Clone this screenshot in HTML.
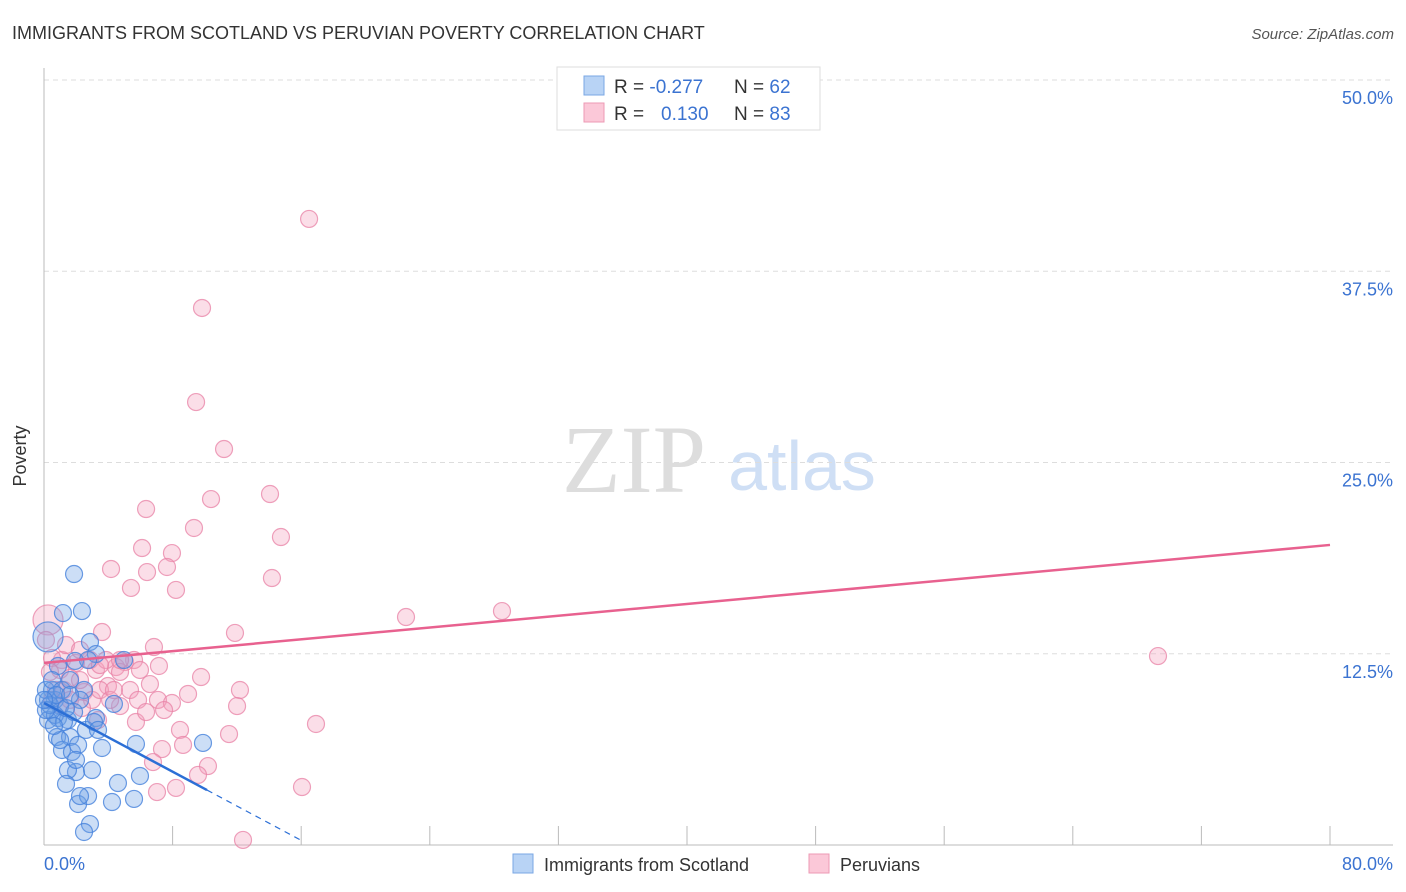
<!DOCTYPE html>
<html><head><meta charset="utf-8"><style>
body{margin:0;background:#fff;font-family:"Liberation Sans",sans-serif}
svg{display:block}
</style></head><body>
<svg id="chart" width="1406" height="892" viewBox="0 0 1406 892">
<text x="12" y="39" font-size="18" fill="#333">IMMIGRANTS FROM SCOTLAND VS PERUVIAN POVERTY CORRELATION CHART</text>
<text x="1394" y="39" font-size="15" fill="#555" font-style="italic" text-anchor="end">Source: ZipAtlas.com</text>
<text x="26" y="456" font-size="18" fill="#333" text-anchor="middle" transform="rotate(-90 26 456)">Poverty</text>
<g>
<text x="634" y="492" font-size="96" font-family="Liberation Serif,serif" fill="#ddd" text-anchor="middle">ZIP</text>
<text x="802" y="490" font-size="70" fill="#cfdff5" text-anchor="middle">atlas</text>
</g>
<g id="grid"></g>
<g id="axes"></g>
<g id="pts"></g>
<g id="lines"></g>
<g>
<rect x="557" y="67" width="263" height="63" fill="#fff" stroke="#ddd"/>
<rect x="584" y="76" width="20" height="19" fill="#b8d3f5" stroke="#7aa7e4"/>
<rect x="584" y="103" width="20" height="19" fill="#fbc8d8" stroke="#ec9ab4"/>
<text x="614" y="93" font-size="19" fill="#333">R = <tspan fill="#3b73d1">-0.277</tspan></text>
<text x="734" y="93" font-size="19" fill="#333">N = <tspan fill="#3b73d1">62</tspan></text>
<text x="614" y="120" font-size="19" fill="#333">R = </text>
<text x="661" y="120" font-size="19" fill="#3b73d1">0.130</text>
<text x="734" y="120" font-size="19" fill="#333">N = <tspan fill="#3b73d1">83</tspan></text>
</g>
<g>
<rect x="513" y="854" width="20" height="19" fill="#b8d3f5" stroke="#7aa7e4"/>
<text x="544" y="871" font-size="18" fill="#333">Immigrants from Scotland</text>
<rect x="809" y="854" width="20" height="19" fill="#fbc8d8" stroke="#ec9ab4"/>
<text x="840" y="871" font-size="18" fill="#333">Peruvians</text>
</g>
</svg>
<script>
const yTicks=[12.5,25,37.5,50];
const yTickLabels=["12.5%","25.0%","37.5%","50.0%"];
const xTickLabels=["0.0%","80.0%"];
const blueX=[1.87,1.18,2.36,2.86,3.23,1.93,0.87,0.25,0.50,0.68,1.00,0.37,0.87,1.49,2.49,3.23,2.61,4.35,0.81,1.62,1.12,1.74,2.12,3.61,1.99,1.49,1.37,2.12,2.74,2.24,2.86,2.49,4.23,4.60,5.60,5.97,5.72,9.89,0.25,0.12,0.50,0.25,0.68,1.12,1.62,2.74,4.98,3.11,1.99,3.36,1.24,2.24,0.37,0.75,1.00,1.87,1.37,0.62,2.99,0.12,1.62,0.0];
const blueY=[17.71,15.16,15.29,13.27,12.48,12.03,11.70,13.60,10.13,9.48,9.08,8.82,8.30,8.17,10.13,8.30,7.52,9.22,7.06,7.06,6.21,6.08,6.54,6.34,4.77,4.90,3.99,2.68,3.20,3.20,1.37,0.85,2.81,4.05,3.01,4.51,6.60,6.67,9.48,10.13,10.78,8.17,8.50,10.13,10.78,12.09,12.09,8.04,5.56,7.52,8.04,9.48,9.15,9.80,6.86,8.69,8.95,7.78,4.90,8.82,9.80,9.48];
const pinkX=[16.49,9.83,9.46,11.20,10.39,14.06,6.35,9.33,14.74,6.10,7.96,4.17,7.65,6.41,14.18,5.41,8.21,22.52,28.49,69.30,0.25,3.61,6.84,11.88,5.04,7.15,9.77,3.23,4.48,1.12,1.99,0.50,3.98,5.35,6.59,8.96,12.19,2.49,1.24,2.99,4.73,5.85,7.09,7.96,12.01,7.47,5.72,8.46,11.51,16.92,8.65,7.34,10.20,9.58,6.78,8.21,7.03,16.05,12.38,3.86,4.73,1.00,1.62,0.37,0.75,2.24,3.48,4.11,2.86,5.60,6.35,4.35,1.62,3.36,1.00,2.36,4.73,3.48,0.50,1.37,0.12,2.24,5.97];
const pinkY=[40.92,35.10,28.95,25.88,22.61,22.94,21.96,20.72,20.13,19.41,19.08,18.04,18.17,17.84,17.45,16.80,16.67,14.90,15.29,12.35,14.71,13.92,12.94,13.86,11.96,11.70,10.98,11.44,11.63,12.09,11.90,12.22,10.39,10.13,10.52,9.87,10.13,10.00,10.13,9.48,9.08,9.48,9.48,9.28,9.08,8.82,8.04,7.52,7.25,7.91,6.54,6.27,5.16,4.58,5.42,3.73,3.46,3.79,0.33,12.09,11.31,11.44,10.92,11.31,10.13,10.78,10.13,9.48,12.09,12.09,8.69,10.13,9.48,8.17,9.15,8.95,12.09,11.76,9.48,13.07,13.40,12.75,11.44];
const blueTrend=[9.28,-0.561];   // intercept, slope
const blueTrendEnd=[10.14,15.92]; // solid end, dashed end (x%)
const pinkTrend=[11.90,0.0964];

const NS="http://www.w3.org/2000/svg";
const X0=44,X1=1330,Y0=845,Y1=80;
const sx=v=>X0+(v/80)*(X1-X0);
const sy=v=>Y0-(v/50)*(Y0-Y1);
function mk(t,a,p){const e=document.createElementNS(NS,t);for(const k in a)e.setAttribute(k,a[k]);p.appendChild(e);return e;}
const grid=document.getElementById('grid'),axes=document.getElementById('axes');
yTicks.forEach((t,i)=>{
  const l=mk('line',{x1:X0,x2:1393,y1:sy(t),y2:sy(t),stroke:'#ddd','stroke-dasharray':'5,4'},grid);
  
  
  const tx=mk('text',{x:1393,y:sy(t)+24,'font-size':18,fill:'#3b73d1','text-anchor':'end'},axes);
  tx.textContent=yTickLabels[i];
  
  
});
const ya=mk('line',{x1:X0,x2:X0,y1:68,y2:Y0,stroke:'#bbb'},axes);


const xa=mk('line',{x1:X0,x2:1393,y1:Y0,y2:Y0,stroke:'#bbb'},axes);


for(let v=0;v<=80;v+=8){
  const tk=mk('line',{x1:sx(v),x2:sx(v),y1:Y0-19,y2:Y0,stroke:'#bbb'},axes);
  
  
}
[[0,'start',44],[80,'end',1393]].forEach((d,i)=>{
  const t=mk('text',{x:d[2],y:870,'font-size':18,fill:'#3b73d1','text-anchor':d[1]},axes);
  t.textContent=xTickLabels[i];
  
  
});
const pts=document.getElementById('pts');
pinkX.forEach((x,i)=>{
  const c=mk('circle',{cx:sx(x),cy:sy(pinkY[i]),r:i==20?15:8.5,fill:'rgba(243,160,190,0.35)',stroke:'rgba(232,130,165,0.75)','stroke-width':1.2},pts);
  
  
});
blueX.forEach((x,i)=>{
  const c=mk('circle',{cx:sx(x),cy:sy(blueY[i]),r:i==7?15:8.5,fill:'rgba(110,160,230,0.35)',stroke:'rgba(70,130,220,0.8)','stroke-width':1.2},pts);
  
  
});
const lines=document.getElementById('lines');
const pl=mk('line',{x1:sx(0),y1:sy(pinkTrend[0]),x2:sx(80),y2:sy(pinkTrend[0]+pinkTrend[1]*80),stroke:'#e8618f','stroke-width':2.5},lines);


const bf=x=>blueTrend[0]+blueTrend[1]*x;
const bl=mk('line',{x1:sx(0),y1:sy(bf(0)),x2:sx(blueTrendEnd[0]),y2:sy(bf(blueTrendEnd[0])),stroke:'#2c6fd6','stroke-width':2.5},lines);


const bd=mk('line',{x1:sx(blueTrendEnd[0]),y1:sy(bf(blueTrendEnd[0])),x2:sx(blueTrendEnd[1]),y2:sy(bf(blueTrendEnd[1])),stroke:'#2c6fd6','stroke-width':1.2,'stroke-dasharray':'6,5'},lines);


</script>
</body></html>
